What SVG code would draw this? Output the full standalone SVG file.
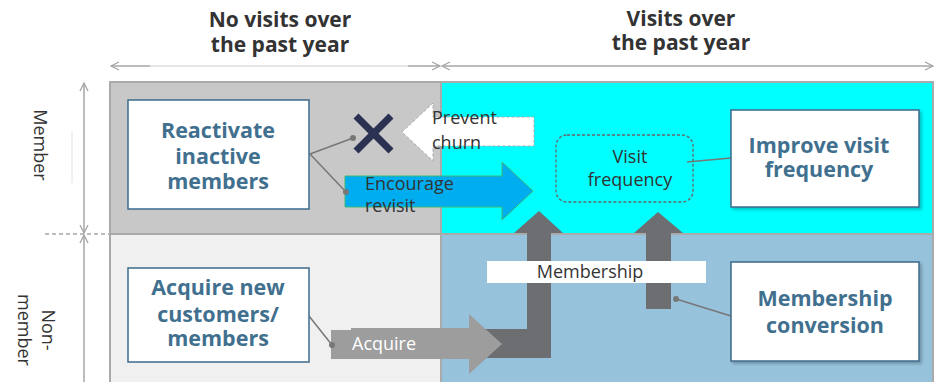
<svg xmlns="http://www.w3.org/2000/svg" width="935" height="382" viewBox="0 0 935 382">
  <defs>
    <style>
      .hdr { font-family: "Open Sans", "Noto Sans", "Liberation Sans", sans-serif; font-weight: bold; font-size: 21px; fill: #333333; text-anchor: middle; }
      .axis { font-family: "Open Sans", "Noto Sans", "Liberation Sans", sans-serif; font-size: 18px; fill: #333333; text-anchor: middle; }
      .node rect { fill: #ffffff; stroke: #3d6a8a; stroke-width: 1.5; }
      .node text { font-family: "Open Sans", "Noto Sans", "Liberation Sans", sans-serif; font-weight: bold; font-size: 21.5px; fill: #41708f; text-anchor: middle; }
      .lbl { font-family: "Open Sans", "Noto Sans", "Liberation Sans", sans-serif; font-size: 18px; fill: #333333; }
      .dim { stroke: #a6a6a6; stroke-width: 1.5; fill: none; }
      .conn { stroke: #777777; stroke-width: 1.5; fill: none; }
      .dot { fill: #777777; }
    </style>
    <marker id="chev" viewBox="0 0 10 10" refX="9" refY="5" markerWidth="10" markerHeight="10" markerUnits="userSpaceOnUse" orient="auto-start-reverse">
      <path d="M1,1 L9,5 L1,9" fill="none" stroke="#a6a6a6" stroke-width="1.3"/>
    </marker>
    <filter id="shadow" x="-10%" y="-10%" width="125%" height="125%">
      <feDropShadow dx="2" dy="2" stdDeviation="1.5" flood-color="#000" flood-opacity="0.25"/>
    </filter>
  </defs>

  <rect width="935" height="382" fill="#ffffff"/>

  <!-- column headers -->
  <text class="hdr" x="280" y="27">No visits over</text>
  <text class="hdr" x="280" y="52">the past year</text>
  <text class="hdr" x="681" y="26">Visits over</text>
  <text class="hdr" x="681" y="50">the past year</text>

  <!-- column span arrows -->
  <line x1="150" y1="66" x2="408" y2="66" stroke="#dcdcdc" stroke-width="1.5"/>
  <line class="dim" x1="111" y1="66" x2="150" y2="66" marker-start="url(#chev)"/>
  <line class="dim" x1="408" y1="66" x2="440" y2="66" marker-end="url(#chev)"/>
  <line class="dim" x1="442" y1="66" x2="933" y2="66" marker-start="url(#chev)" marker-end="url(#chev)"/>

  <!-- row span arrows -->
  <line class="dim" x1="84" y1="83" x2="84" y2="233" marker-start="url(#chev)" marker-end="url(#chev)"/>
  <line class="dim" x1="84" y1="235" x2="84" y2="384" marker-start="url(#chev)"/>
  <line x1="45" y1="234" x2="110" y2="234" stroke="#a6a6a6" stroke-width="1.3" stroke-dasharray="4 3"/>
  <line x1="72" y1="132" x2="72" y2="183" stroke="#e2e2e2" stroke-width="1"/>
  <text class="axis" transform="translate(34,145) rotate(90)">Member</text>
  <text class="axis" transform="translate(42,330) rotate(90)">Non-</text>
  <text class="axis" transform="translate(18,330) rotate(90)">member</text>

  <!-- quadrants -->
  <rect x="110" y="82" width="331" height="152" fill="#c8c8c8"/>
  <rect x="441" y="82" width="492" height="152" fill="#00ffff"/>
  <rect x="110" y="234" width="331" height="150" fill="#f0f0f0"/>
  <rect x="441" y="234" width="492" height="150" fill="#96c2dc"/>
  <g stroke="#aaaaaa" stroke-width="2" fill="none">
    <polyline points="110,384 110,82 933,82 933,384"/>
    <line x1="441" y1="82" x2="441" y2="384"/>
    <line x1="110" y1="234" x2="933" y2="234"/>
  </g>

  <!-- flow arrows and connectors -->
  <g id="connectors">
    <!-- membership elbow arrow -->
    <polygon points="480,329 527,329 527,233 514,233 539,211 563,233 551,233 551,358 480,358" fill="#6d6e71"/>
    <!-- membership conversion arrow -->
    <polygon points="646,309 646,233 634,233 658,212 683,233 671,233 671,309" fill="#6d6e71"/>
    <rect x="487" y="261" width="219" height="22" fill="#ffffff"/>
    <text class="lbl" x="590" y="278" text-anchor="middle" font-size="18.5">Membership</text>

    <!-- acquire arrow -->
    <polygon points="331,330 351,330 351,328 469,328 469,314 502,344 469,374 469,359 331,359" fill="#9d9d9d"/>
    <text class="lbl" x="352" y="350" style="fill:#ffffff">Acquire</text>

    <!-- encourage revisit arrow -->
    <polygon points="345,176 502,176 502,162 533,191 502,220 502,207 345,207" fill="#00aeef" stroke="#3cb878" stroke-width="1"/>
    <text class="lbl" x="365" y="190">Encourage</text>
    <text class="lbl" x="365" y="212">revisit</text>

    <!-- prevent churn arrow -->
    <polygon points="402,132 433,103 433,117 534,117 534,146 433,146 433,161" fill="#ffffff" stroke="#aaaaaa" stroke-width="1" stroke-dasharray="3 2"/>
    <text class="lbl" x="432" y="124">Prevent</text>
    <text class="lbl" x="432" y="149">churn</text>

    <!-- cross mark -->
    <g stroke="#2b3151" stroke-width="7">
      <line x1="356" y1="116" x2="391" y2="151"/>
      <line x1="391" y1="116" x2="356" y2="151"/>
    </g>

    <!-- leader lines -->
    <line class="conn" x1="310" y1="154" x2="353" y2="138"/>
    <circle class="dot" cx="353" cy="138" r="3"/>
    <line class="conn" x1="310" y1="154" x2="346" y2="192"/>
    <circle class="dot" cx="346" cy="192" r="3"/>
    <line class="conn" x1="309" y1="316" x2="332" y2="345"/>
    <circle class="dot" cx="332" cy="345" r="3"/>
    <line class="conn" x1="731" y1="316" x2="676" y2="299"/>
    <circle class="dot" cx="676" cy="299" r="3"/>
    <line class="conn" x1="731" y1="158" x2="687" y2="162"/>
  </g>

  <!-- nodes -->
  <g id="visit-frequency">
    <rect x="556" y="135" width="137" height="67" rx="11" fill="none" stroke="#666666" stroke-width="1.3" stroke-dasharray="3 2"/>
    <text class="lbl" x="630" y="163" text-anchor="middle">Visit</text>
    <text class="lbl" x="630" y="186" text-anchor="middle">frequency</text>
  </g>

  <g id="reactivate" class="node">
    <rect x="128" y="100" width="181" height="109"/>
    <text x="218" y="138">Reactivate</text>
    <text x="218" y="164">inactive</text>
    <text x="218" y="189">members</text>
  </g>

  <g id="improve" class="node">
    <rect x="731" y="110" width="188" height="97" filter="url(#shadow)"/>
    <text x="819" y="153">Improve visit</text>
    <text x="819" y="177">frequency</text>
  </g>

  <g id="acquire" class="node">
    <rect x="128" y="268" width="181" height="94"/>
    <text x="218" y="295">Acquire new</text>
    <text x="218" y="322">customers/</text>
    <text x="218" y="346">members</text>
  </g>

  <g id="conversion" class="node">
    <rect x="731" y="262" width="188" height="99" filter="url(#shadow)"/>
    <text x="825" y="306">Membership</text>
    <text x="825" y="333">conversion</text>
  </g>
</svg>
